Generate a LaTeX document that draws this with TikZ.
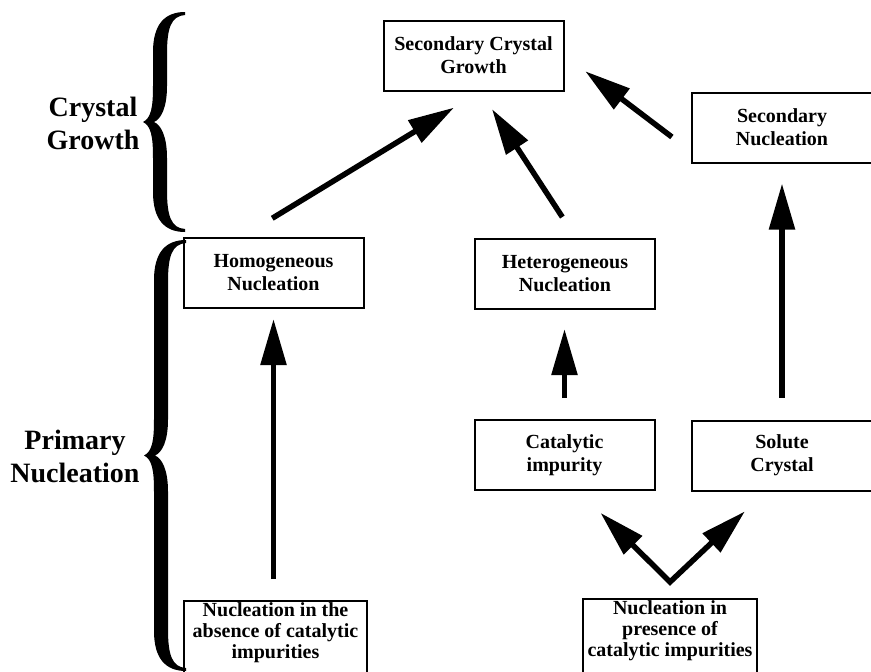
\documentclass[tikz,border=0pt]{standalone}
\usepackage{fontspec}
\setmainfont{Liberation Serif}
\usetikzlibrary{arrows.meta}
\newcommand{\curlybrace}[3]{%
  \pgfmathsetmacro{\ym}{(#2+#3)/2}
  \fill (#1-42,\ym)
    .. controls (#1-34,\ym-4) and (#1-32,\ym-14) .. (#1-32,\ym-36)
    -- (#1-32,#2+40)
    .. controls (#1-32,#2+12) and (#1-20,#2) .. (#1,#2)
    -- (#1,#2+3)
    .. controls (#1-14,#2+4) and (#1-18,#2+16) .. (#1-18,#2+42)
    -- (#1-18,\ym-36)
    .. controls (#1-18,\ym-14) and (#1-24,\ym-3) .. (#1-31,\ym)
    .. controls (#1-24,\ym+3) and (#1-18,\ym+14) .. (#1-18,\ym+36)
    -- (#1-18,#3-42)
    .. controls (#1-18,#3-16) and (#1-14,#3-4) .. (#1,#3-3)
    -- (#1,#3)
    .. controls (#1-20,#3) and (#1-32,#3-12) .. (#1-32,#3-40)
    -- (#1-32,\ym+36)
    .. controls (#1-32,\ym+14) and (#1-34,\ym+4) .. cycle;}

\begin{document}
\begin{tikzpicture}[x=1pt,y=-1pt,
  box/.style={draw,line width=2pt,minimum width=180pt,minimum height=70pt,align=center,inner sep=2pt,font=\bfseries\fontsize{20}{23}\selectfont},
  lowbox/.style={box,minimum height=0pt,anchor=north,text depth=22pt,font=\bfseries\fontsize{20}{21}\selectfont},
  side/.style={align=center,font=\bfseries\fontsize{28}{33}\selectfont},
  arr/.style={line width=5.5pt,-{Triangle[length=46pt,width=25pt]}},
  twoarr/.style={line width=5.5pt,{Triangle[length=46pt,width=25pt]}-{Triangle[length=46pt,width=25pt]}}]
\useasboundingbox (0,0) rectangle (871,672);
\node[box] (scg) at (473.5,55.5) {Secondary Crystal\\Growth};
\node[box] (secnuc) at (782,127.5) {Secondary\\Nucleation};
\node[box] (homog) at (273.5,273) {Homogeneous\\Nucleation};
\node[box] (hetero) at (565,274) {Heterogeneous\\Nucleation};
\node[box] (cat) at (564.5,455) {Catalytic\\impurity};
\node[box] (solute) at (782,455.5) {Solute\\Crystal};
\node[lowbox,minimum width=183pt] (nabs) at (275.5,600) {Nucleation in the\\absence of catalytic\\impurities};
\node[lowbox,minimum width=174pt] (npres) at (670,598) {Nucleation in\\presence of\\catalytic impurities};
\coordinate (fork) at ([yshift=16pt]npres.north);

\node[side] (cg) at (93,123) {Crystal\\Growth};
\node[side] (pn) at (75,456) {Primary\\Nucleation};
\curlybrace{185}{12}{232}
\curlybrace{186}{240}{671}

\draw[arr,shorten <=36pt,shorten >=31pt] ([xshift=-32pt]homog.north) -- ([xshift=7pt]scg.south);
\draw[arr,shorten <=25pt,shorten >=21pt] ([xshift=11pt]hetero.north) -- ([xshift=7pt]scg.south);
\draw[arr,shorten <=24pt,shorten >=26pt] ([yshift=-24pt]secnuc.west) -- (scg.east);
\draw[arr,shorten <=21pt,shorten >=10pt] (homog.south |- nabs.north) -- (homog.south);
\draw[arr,shorten <=21pt,shorten >=19pt] (cat.north) -- (cat.north |- hetero.south);
\draw[arr,shorten <=22pt,shorten >=20pt] (solute.north) -- (secnuc.south);
\draw[twoarr,shorten <=31pt,shorten >=29pt] ([xshift=14pt]cat.south) -- (fork) -- ([xshift=-16pt]solute.south);
\end{tikzpicture}
\end{document}
